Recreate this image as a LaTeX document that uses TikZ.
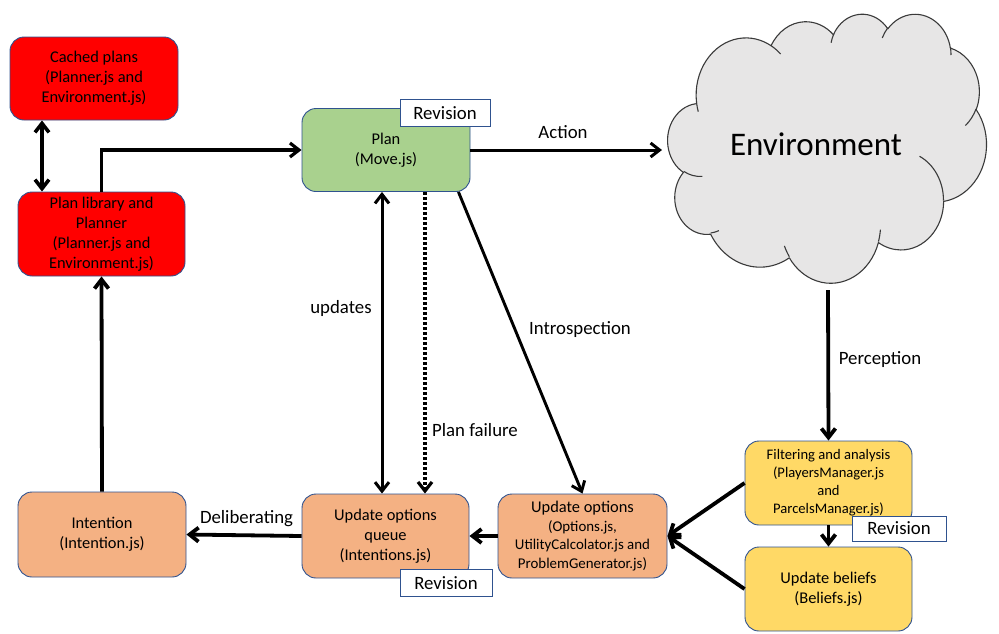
\documentclass[tikz,border=0pt]{standalone}
\usepackage{fontspec}
\setmainfont{Carlito}
\usetikzlibrary{arrows.meta}
\definecolor{bord}{HTML}{2F528F}
\definecolor{cred}{HTML}{FF0000}
\definecolor{cgreen}{HTML}{A9D18E}
\definecolor{corange}{HTML}{F4B183}
\definecolor{cyellow}{HTML}{FFD966}
\definecolor{cloudfill}{HTML}{E7E6E6}
\definecolor{cloudline}{HTML}{3A3A3A}
\pgfmathdeclarefunction{ooang}{3}{%
  \begingroup
  \pgfmathparse{atan2((#1)*sin(#3),(#2)*cos(#3))}%
  \pgfmathsmuggle\pgfmathresult
  \endgroup}
\pgfmathdeclarefunction{oodelta}{4}{%
  \begingroup
  \pgfmathparse{ooang(#1,#2,(#3)+(#4))-ooang(#1,#2,#3)}%
  \let\ooddd\pgfmathresult
  \pgfmathparse{\ooddd-360*round((\ooddd-(#4))/360)}%
  \pgfmathsmuggle\pgfmathresult
  \endgroup}
\tikzset{
  oo/.style n args={4}{x radius=#1pt, y radius=#2pt, start angle={ooang(#1,#2,#3)}, delta angle={oodelta(#1,#2,#3,#4)}},
  box/.style={draw=bord, line width=0.9pt, rounded corners=14pt, minimum width=168pt, minimum height=83pt, align=center, inner sep=0pt, text=black, font=\fontsize{16.4}{20}\selectfont},
  rev/.style={draw=bord, fill=white, line width=0.9pt, minimum width=90pt, minimum height=27pt, inner sep=0pt, font=\fontsize{18.8}{22}\selectfont},
  lab/.style={font=\fontsize{18.8}{22}\selectfont, inner sep=0pt},
  arr/.style={-{Straight Barb[length=9pt,width=14pt]}, line width=#1},
  darr/.style={{Straight Barb[length=9pt,width=14pt]}-{Straight Barb[length=9pt,width=14pt]}, line width=#1},
  cloudpath/.style={fill=cloudfill, draw=cloudline, line width=1.1pt, line join=round},
  cloudinner/.style={draw=cloudline, line width=1.1pt}
}
\def\cloudouter{(390pt,1437pt)
  arc[oo={675.3}{919.0}{-190.487483}{123.780533}]
  arc[oo={533.3}{726.7}{-144.102383}{89.945233}]
  arc[oo={436.5}{594.5}{-145.807917}{99.723017}]
  arc[oo={485.7}{659.5}{-130.986067}{117.241733}]
  arc[oo={533.3}{727.3}{-78.708883}{109.026917}]
  arc[oo={677.5}{922.0}{-46.26725}{130.269}]
  arc[oo={578.5}{786.7}{0.625017}{114.033333}]
  arc[oo={675.2}{921.5}{22.4516}{115.17255}]
  arc[oo={772.0}{1054.3}{66.242633}{75.711017}]
  arc[oo={436.0}{591.8}{-274.942083}{146.735567}]
  arc[oo={434.5}{594.5}{-246.8285}{152.51885}]
  -- cycle}
\begin{document}
\begin{tikzpicture}[x=1pt, y=-1pt]
% measure the cloud outline
\begin{scope}[local bounding box=cbb]
\path \cloudouter;
\end{scope}
\pgfpointanchor{cbb}{south west}\pgfgetlastxy{\cxa}{\cya}
\pgfpointanchor{cbb}{north east}\pgfgetlastxy{\cxb}{\cyb}
\pgfmathsetmacro\csx{330/(\cxb-\cxa)}
\pgfmathsetmacro\csy{281/(\cyb-\cya)}
\pgfmathsetmacro\ctx{663-\cxa*\csx}
\pgfmathsetmacro\cty{-9+\cya*\csy}
\pgfresetboundingbox
\useasboundingbox (0,0) rectangle (999,633);
% cloud
\begin{scope}[cm={\csx,0,0,-\csy,(\ctx pt,\cty pt)}]
\path[cloudpath] \cloudouter;
\path[cloudinner]
  (469.3pt,2617.7pt) arc[oo={434.5}{594.5}{86.742}{26.4295}]
  (692.8pt,3489.9pt) arc[oo={436.0}{591.8}{73.61047}{11.44747}]
  (1647.8pt,3909.0pt) arc[oo={675.2}{921.5}{137.62415}{14.0811}]
  (2882.7pt,3475.1pt) arc[oo={675.2}{921.5}{6.45327}{15.99835}]
  (3412.9pt,2295.4pt) arc[oo={578.5}{786.7}{-70.29235}{70.91737}]
  (4179.8pt,1535.4pt) arc[oo={533.3}{727.3}{30.31803}{27.7515}]
  (3832.4pt,542.6pt) arc[oo={485.7}{659.5}{-13.74433}{14.8589}]
  (2907.8pt,395.2pt) arc[oo={485.7}{659.5}{-149.18145}{18.19537}]
  (2214.1pt,472.0pt) arc[oo={436.5}{594.5}{-163.49427}{17.68635}]
  (1400.0pt,519.2pt) arc[oo={675.3}{919.0}{-66.70695}{12.31935}]
  (412.7pt,1578.9pt) arc[oo={675.3}{919.0}{157.65435}{11.85817}];
\end{scope}
\node[inner sep=0pt, font=\fontsize{33}{38}\selectfont] (env) at (816,144) {Environment};
\coordinate (envL) at (662,150);
\coordinate (envB) at (828,290);

% boxes
\node[box, fill=cred] (cached) at (94,78.5) {Cached plans\\(Planner.js and\\Environment.js)};
\node[box, fill=cred, minimum width=167pt, minimum height=84pt] (planlib) at (101.5,234) {Plan library and\\Planner\\(Planner.js and\\Environment.js)};
\node[box, fill=cgreen] (plan) at (386,150) {Plan\\(Move.js)};
\node[box, fill=corange, minimum height=85pt] (intent) at (102,534.5) {Intention\\(Intention.js)};
\node[box, fill=corange, minimum width=167pt, minimum height=84pt] (queue) at (385.5,536) {Update options\\queue\\(Intentions.js)};
\node[box, fill=corange, minimum width=169pt, minimum height=84pt, font=\fontsize{14.9}{18.7}\selectfont] (opts) at (582.5,536) {{\fontsize{16.4}{18.7}\selectfont Update options}\\(Options.js,\\UtilityCalcolator.js and\\ProblemGenerator.js)};
\node[box, fill=cyellow, minimum width=167pt, minimum height=84pt, font=\fontsize{14.6}{18}\selectfont] (filt) at (828.5,483) {Filtering and analysis\\(PlayersManager.js\\and\\ParcelsManager.js)};
\node[box, fill=cyellow, minimum width=167pt, minimum height=84pt] (bel) at (828.5,589) {Update beliefs\\(Beliefs.js)};

% revision tags
\node[rev] (rev1) at (445,113) {Revision};
\node[rev, minimum width=92pt] (rev2) at (446,583) {Revision};
\node[rev, minimum width=94pt, minimum height=25pt] (rev3) at (899,528.5) {Revision};

% connectors
\draw[darr=3.6pt] ([xshift=-52pt]cached.south) -- ([xshift=-59.5pt]planlib.north);
\draw[arr=3.2pt] (planlib.north) |- (plan.west);
\draw[arr=3pt] (plan.east) -- (envL);
\draw[darr=3pt] ([xshift=-4pt]plan.south) -- ([xshift=-3.5pt]queue.north);
\draw[arr=3.2pt, dash pattern=on 3pt off 2pt] ([xshift=39pt]plan.south) -- ([xshift=39.5pt]queue.north);
\draw[arr=2.9pt] ([xshift=-12pt]plan.south east) -- (opts.north);
\draw[arr=3.8pt] (envB) -- (filt.north);
\draw[arr=3.8pt] (filt.south) -- (bel.north);
\draw[arr=3.8pt] (filt.west) -- (opts.east);
\draw[arr=3.8pt] (bel.west) -- (opts.east);
\draw[arr=3.8pt] (opts.west) -- (queue.east);
\draw[arr=3.8pt] (queue.west) -- (intent.east);
\draw[arr=3.8pt] (intent.north) -- (planlib.south);

% labels
\node[lab] (lAction) at (563,132) {Action};
\node[lab] (lUpd) at (341,308) {updates};
\node[lab] (lFail) at (475,430) {Plan failure};
\node[lab] (lIntro) at (580,330) {Introspection};
\node[lab] (lPerc) at (880,360) {Perception};
\node[lab] (lDelib) at (246.5,519) {Deliberating};
\end{tikzpicture}
\end{document}
